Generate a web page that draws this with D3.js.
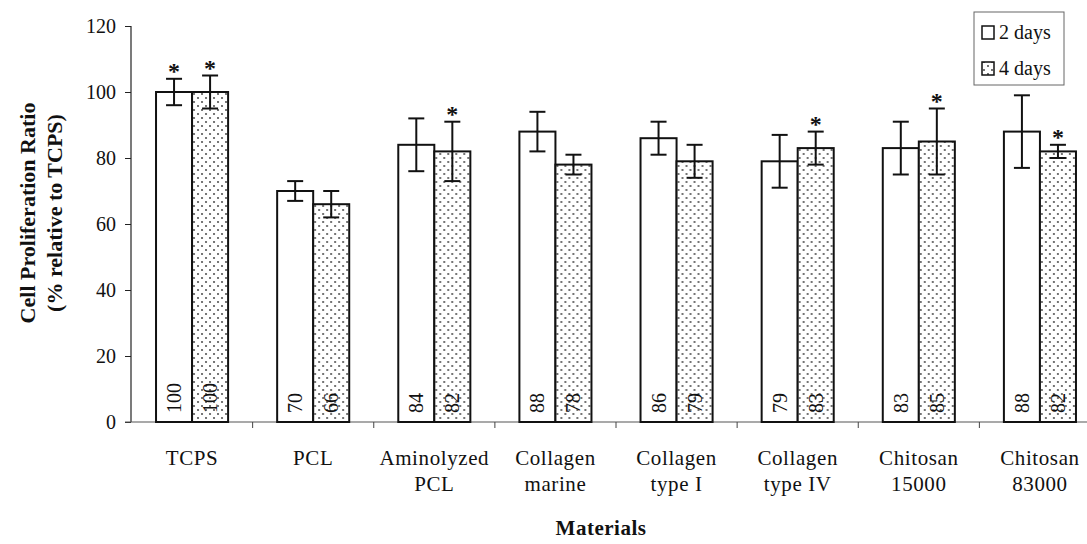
<!DOCTYPE html>
<html>
<head>
<meta charset="utf-8">
<script src="https://cdn.jsdelivr.net/npm/d3@7"></script>
<style>
  html, body { margin: 0; padding: 0; background: #fff; }
  svg { display: block; }
  text { font-family: "Liberation Serif", "Times New Roman", serif; fill: #111; }
</style>
</head>
<body>
<svg id="chart" width="1087" height="544"></svg>
<script>
// ---- data ----
const categories = ["TCPS", "PCL", "Aminolyzed PCL", "Collagen marine", "Collagen type I", "Collagen type IV", "Chitosan 15000", "Chitosan 83000"];
const categoryLines = [["TCPS"], ["PCL"], ["Aminolyzed", "PCL"], ["Collagen", "marine"], ["Collagen", "type I"], ["Collagen", "type IV"], ["Chitosan", "15000"], ["Chitosan", "83000"]];
const seriesNames = ["2 days", "4 days"];
const values2d = [100, 70, 84, 88, 86, 79, 83, 88];
const values4d = [100, 66, 82, 78, 79, 83, 85, 82];
const err2d = [4, 3, 8, 6, 5, 8, 8, 11];
const err4d = [5, 4, 9, 3, 5, 5, 10, 2];
const star2d = [true, false, false, false, false, false, false, false];
const star4d = [true, false, true, false, false, true, true, true];
const yTicks = [0, 20, 40, 60, 80, 100, 120];

const series = [
  { name: seriesNames[0], values: values2d, err: err2d, star: star2d },
  { name: seriesNames[1], values: values4d, err: err4d, star: star4d }
];

const svg = d3.select("#chart");

// dotted pattern
const defs = svg.append("defs");
const pat = defs.append("pattern")
  .attr("id", "dots").attr("patternUnits", "userSpaceOnUse")
  .attr("width", 8).attr("height", 8);
pat.append("rect").attr("width", 8).attr("height", 8).attr("fill", "#fff");
pat.append("circle").attr("cx", 2).attr("cy", 2).attr("r", 0.9).attr("fill", "#333");
pat.append("circle").attr("cx", 6).attr("cy", 6).attr("r", 0.9).attr("fill", "#333");

const fills = ["#fff", "url(#dots)"];

// scales
const y = d3.scaleLinear().domain([0, 120]).range([422, 26]);
const x0 = d3.scaleBand().domain(categories).range([131.5, 1100.5]).paddingInner(0.405).paddingOuter(0.2025);
const x1 = d3.scaleBand().domain(seriesNames).range([0, x0.bandwidth()]).padding(0);

// y axis
const yAxis = d3.axisLeft(y).tickValues(yTicks).tickSize(6).tickPadding(9);
const gy = svg.append("g").attr("transform", "translate(131,0)").call(yAxis);
gy.select(".domain").attr("stroke", "#222").attr("stroke-width", 1.2).attr("d", "M0,26V422");
gy.selectAll(".tick line").attr("stroke", "#222");
gy.selectAll(".tick text").attr("font-size", 20).attr("font-family", "Liberation Serif, serif").attr("fill", "#111");

// x axis line
svg.append("line").attr("x1", 125).attr("x2", 1087).attr("y1", y(0)).attr("y2", y(0))
  .attr("stroke", "#555").attr("stroke-width", 1.2);
// boundary ticks between groups
const step = x0.step();
categories.slice(1).forEach(c => {
  const bx = x0(c) - (step - x0.bandwidth()) / 2;
  svg.append("line").attr("x1", bx).attr("x2", bx).attr("y1", y(0)).attr("y2", y(0) + 6)
    .attr("stroke", "#444").attr("stroke-width", 1);
});

// bars
const groups = svg.append("g").selectAll("g").data(categories).join("g")
  .attr("transform", c => `translate(${x0(c)},0)`);

series.forEach((s, si) => {
  groups.append("rect")
    .attr("x", x1(s.name))
    .attr("width", x1.bandwidth())
    .attr("y", (c, i) => y(s.values[i]))
    .attr("height", (c, i) => y(0) - y(s.values[i]))
    .attr("fill", fills[si])
    .attr("stroke", "#111").attr("stroke-width", 2);
});

// error bars, labels, stars
series.forEach((s, si) => {
  const cx = x1(s.name) + x1.bandwidth() / 2;
  groups.append("line")
    .attr("x1", cx).attr("x2", cx)
    .attr("y1", (c, i) => y(s.values[i] + s.err[i]))
    .attr("y2", (c, i) => y(s.values[i] - s.err[i]))
    .attr("stroke", "#111").attr("stroke-width", 2);
  [1, -1].forEach(sign => {
    groups.append("line")
      .attr("x1", cx - 8).attr("x2", cx + 8)
      .attr("y1", (c, i) => y(s.values[i] + sign * s.err[i]))
      .attr("y2", (c, i) => y(s.values[i] + sign * s.err[i]))
      .attr("stroke", "#111").attr("stroke-width", 2);
  });
  // value labels (rotated)
  groups.append("text")
    .attr("transform", (c, i) => `translate(${cx + 7},${y(0) - 9}) rotate(-90)`)
    .attr("text-anchor", "start")
    .attr("font-size", 20)
    .attr("font-family", "Liberation Sans Narrow, Liberation Sans, sans-serif")
    .text((c, i) => s.values[i]);
  // stars
  groups.filter((c, i) => s.star[i]).append("text")
    .attr("x", cx)
    .attr("y", c => { const i = categories.indexOf(c); return y(s.values[i] + s.err[i]); })
    .attr("text-anchor", "middle")
    .attr("font-size", 24).attr("font-weight", "bold")
    .text("*");
});

// category labels
categoryLines.forEach((lines, i) => {
  const cx = x0(categories[i]) + x0.bandwidth() / 2;
  lines.forEach((ln, li) => {
    svg.append("text").attr("x", cx).attr("y", 465 + li * 26)
      .attr("text-anchor", "middle").attr("font-size", 21).attr("letter-spacing", 0.6).text(ln);
  });
});

// axis titles
svg.append("text").attr("x", 601).attr("y", 535).attr("text-anchor", "middle")
  .attr("font-size", 21).attr("font-weight", "bold").attr("letter-spacing", 0.5).text("Materials");

const yt = svg.append("g").attr("transform", "translate(0,213) rotate(-90)");
yt.append("text").attr("x", 0).attr("y", 35).attr("text-anchor", "middle")
  .attr("font-size", 22).attr("font-weight", "bold").text("Cell Proliferation Ratio");
yt.append("text").attr("x", 0).attr("y", 62).attr("text-anchor", "middle")
  .attr("font-size", 22).attr("font-weight", "bold").text("(% relative to TCPS)");

// legend
const lg = svg.append("g").attr("transform", "translate(974,12)");
lg.append("rect").attr("width", 90).attr("height", 73).attr("fill", "#fff")
  .attr("stroke", "#666").attr("stroke-width", 1);
seriesNames.forEach((n, i) => {
  const yy = 21 + i * 36;
  lg.append("rect").attr("x", 8).attr("y", yy - 7).attr("width", 12).attr("height", 13)
    .attr("fill", fills[i]).attr("stroke", "#111").attr("stroke-width", 1.5);
  lg.append("text").attr("x", 25).attr("y", yy + 6).attr("font-size", 20).text(n);
});
</script>
</body>
</html>
